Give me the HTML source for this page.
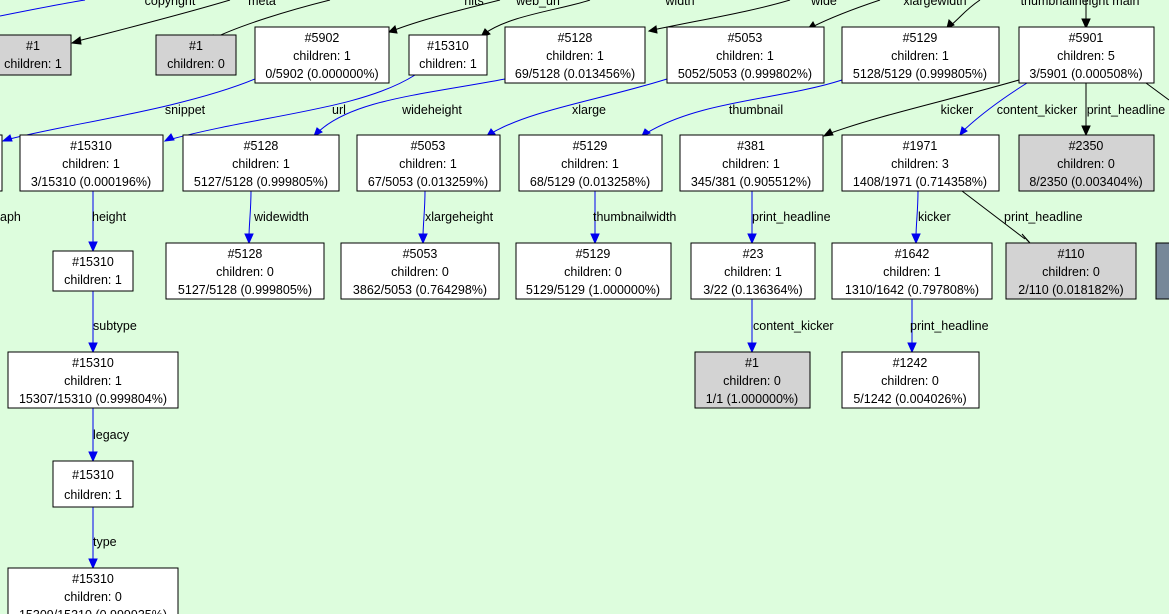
<!DOCTYPE html>
<html><head><meta charset="utf-8"><style>
html,body{margin:0;padding:0;background:#ddfddd;overflow:hidden}
svg{display:block}
text{font-family:"Liberation Sans",sans-serif;font-size:12.5px;fill:#000}
.n{fill:#fff;stroke:#000;stroke-width:1}
.g{fill:#d3d3d3;stroke:#000;stroke-width:1}
.k{fill:none;stroke:#000;stroke-width:1}
.b{fill:none;stroke:#0000ee;stroke-width:1}
.ka{fill:#000;stroke:#000}
.ba{fill:#0000ee;stroke:#0000ee}
</style></head><body>
<svg width="1169" height="614" viewBox="0 0 1169 614" xmlns="http://www.w3.org/2000/svg">
<rect width="1169" height="614" fill="#ddfddd"/>

<path class="b" d="M0,16 C30,10 60,4 85,0"/>
<path class="k" d="M230,0 C180,15 120,30 74,42"/><polygon class="ka" points="72,43 80,37 81,44"/>
<path class="k" d="M330,0 C290,10 240,25 210,40"/><polygon class="ka" points="207,42 213,35 216,41"/>
<path class="k" d="M500,0 C460,10 420,20 392,31"/><polygon class="ka" points="389,32 395,26 397,33"/>
<path class="k" d="M590,0 C560,10 510,15 484,34"/><polygon class="ka" points="481,37 485,29 490,34"/>
<path class="k" d="M790,0 C750,12 700,20 653,30"/><polygon class="ka" points="649,31 656,26 657,33"/>
<path class="k" d="M880,0 C850,10 830,18 812,27"/><polygon class="ka" points="808,29 813,22 816,28"/>
<path class="k" d="M980,0 C965,10 960,18 950,26"/><polygon class="ka" points="947,28 949,20 954,25"/>
<path class="k" d="M1086,0 L1086,23"/><polygon class="ka" points="1082,19 1090,19 1086,28"/>

<text x="170" y="5" text-anchor="middle">copyright</text>
<text x="262" y="5" text-anchor="middle">meta</text>
<text x="474" y="5" text-anchor="middle">hits</text>
<text x="538" y="5" text-anchor="middle">web_url</text>
<text x="680" y="5" text-anchor="middle">width</text>
<text x="824" y="5" text-anchor="middle">wide</text>
<text x="935" y="5" text-anchor="middle">xlargewidth</text>
<text x="1080" y="5" text-anchor="middle">thumbnailheight main</text>

<path class="b" d="M255,79 C180,110 60,125 6,140"/><polygon class="ba" points="3,141 10,135 12,141"/>
<path class="b" d="M415,75 C360,110 260,115 168,140"/><polygon class="ba" points="165,141 171,134 174,140"/>
<path class="b" d="M505,79 C420,95 350,100 316,134"/><polygon class="ba" points="314,136 317,128 322,132"/>
<path class="b" d="M667,79 C600,100 530,110 490,134"/><polygon class="ba" points="487,136 491,129 495,134"/>
<path class="b" d="M842,80 C780,100 700,100 645,134"/><polygon class="ba" points="642,136 645,129 650,133"/>
<path class="k" d="M1019,80 C950,100 880,115 828,134"/><polygon class="ka" points="824,136 830,129 833,135"/>
<path class="b" d="M1027,83 C1000,100 980,115 963,131"/><polygon class="ba" points="960,135 962,127 967,131"/>
<path class="k" d="M1086,83 L1086,130"/><polygon class="ka" points="1082,126 1090,126 1086,135"/>
<path class="k" d="M1146,83 L1169,100"/>

<text x="185" y="114" text-anchor="middle">snippet</text>
<text x="339" y="114" text-anchor="middle">url</text>
<text x="432" y="114" text-anchor="middle">wideheight</text>
<text x="589" y="114" text-anchor="middle">xlarge</text>
<text x="756" y="114" text-anchor="middle">thumbnail</text>
<text x="957" y="114" text-anchor="middle">kicker</text>
<text x="1037" y="114" text-anchor="middle">content_kicker</text>
<text x="1126" y="114" text-anchor="middle">print_headline</text>

<path class="b" d="M93,191 L93,245"/><polygon class="ba" points="89,242 97,242 93,251"/>
<path class="b" d="M251,191 C251,210 249,225 249,237"/><polygon class="ba" points="245,234 253,234 249,243"/>
<path class="b" d="M425,191 C425,210 423,225 423,237"/><polygon class="ba" points="419,234 427,234 423,243"/>
<path class="b" d="M595,191 L595,237"/><polygon class="ba" points="591,234 599,234 595,243"/>
<path class="b" d="M752,191 L752,237"/><polygon class="ba" points="748,234 756,234 752,243"/>
<path class="b" d="M918,191 C918,210 916,225 916,237"/><polygon class="ba" points="912,234 920,234 916,243"/>
<path class="k" d="M962,191 L1025,239"/><polygon class="ka" points="1022,234 1027,240 1030,243"/>
<path class="b" d="M752,299 L752,346"/><polygon class="ba" points="748,343 756,343 752,352"/>
<path class="b" d="M912,299 L912,346"/><polygon class="ba" points="908,343 916,343 912,352"/>
<path class="b" d="M93,291 L93,346"/><polygon class="ba" points="89,343 97,343 93,352"/>
<path class="b" d="M93,408 L93,455"/><polygon class="ba" points="89,452 97,452 93,461"/>
<path class="b" d="M93,507 L93,562"/><polygon class="ba" points="89,559 97,559 93,568"/>

<text x="92" y="221">height</text>
<text x="254" y="221">widewidth</text>
<text x="425" y="221">xlargeheight</text>
<text x="593" y="221">thumbnailwidth</text>
<text x="752" y="221">print_headline</text>
<text x="918" y="221">kicker</text>
<text x="1004" y="221">print_headline</text>
<text x="0" y="221">aph</text>
<text x="753" y="330">content_kicker</text>
<text x="910" y="330">print_headline</text>
<text x="93" y="330">subtype</text>
<text x="93" y="439">legacy</text>
<text x="93" y="546">type</text>

<rect class="g" x="-5" y="35" width="76" height="40"/>
<text x="33" y="50" text-anchor="middle">#1</text><text x="33" y="68" text-anchor="middle">children: 1</text>
<rect class="g" x="156" y="35" width="80" height="40"/>
<text x="196" y="50" text-anchor="middle">#1</text><text x="196" y="68" text-anchor="middle">children: 0</text>
<rect class="n" x="255" y="27" width="134" height="56"/>
<text x="322" y="42" text-anchor="middle">#5902</text><text x="322" y="60" text-anchor="middle">children: 1</text><text x="322" y="78" text-anchor="middle">0/5902 (0.000000%)</text>
<rect class="n" x="409" y="35" width="78" height="40"/>
<text x="448" y="50" text-anchor="middle">#15310</text><text x="448" y="68" text-anchor="middle">children: 1</text>
<rect class="n" x="505" y="27" width="140" height="56"/>
<text x="575" y="42" text-anchor="middle">#5128</text><text x="575" y="60" text-anchor="middle">children: 1</text><text x="575" y="78" text-anchor="middle">69/5128 (0.013456%)</text>
<rect class="n" x="667" y="27" width="157" height="56"/>
<text x="745" y="42" text-anchor="middle">#5053</text><text x="745" y="60" text-anchor="middle">children: 1</text><text x="745" y="78" text-anchor="middle">5052/5053 (0.999802%)</text>
<rect class="n" x="842" y="27" width="157" height="56"/>
<text x="920" y="42" text-anchor="middle">#5129</text><text x="920" y="60" text-anchor="middle">children: 1</text><text x="920" y="78" text-anchor="middle">5128/5129 (0.999805%)</text>
<rect class="n" x="1019" y="27" width="135" height="56"/>
<text x="1086" y="42" text-anchor="middle">#5901</text><text x="1086" y="60" text-anchor="middle">children: 5</text><text x="1086" y="78" text-anchor="middle">3/5901 (0.000508%)</text>

<rect class="n" x="-20" y="135" width="22" height="56"/>
<rect class="n" x="20" y="135" width="143" height="56"/>
<text x="91" y="150" text-anchor="middle">#15310</text><text x="91" y="168" text-anchor="middle">children: 1</text><text x="91" y="186" text-anchor="middle">3/15310 (0.000196%)</text>
<rect class="n" x="183" y="135" width="156" height="56"/>
<text x="261" y="150" text-anchor="middle">#5128</text><text x="261" y="168" text-anchor="middle">children: 1</text><text x="261" y="186" text-anchor="middle">5127/5128 (0.999805%)</text>
<rect class="n" x="357" y="135" width="143" height="56"/>
<text x="428" y="150" text-anchor="middle">#5053</text><text x="428" y="168" text-anchor="middle">children: 1</text><text x="428" y="186" text-anchor="middle">67/5053 (0.013259%)</text>
<rect class="n" x="519" y="135" width="143" height="56"/>
<text x="590" y="150" text-anchor="middle">#5129</text><text x="590" y="168" text-anchor="middle">children: 1</text><text x="590" y="186" text-anchor="middle">68/5129 (0.013258%)</text>
<rect class="n" x="680" y="135" width="143" height="56"/>
<text x="751" y="150" text-anchor="middle">#381</text><text x="751" y="168" text-anchor="middle">children: 1</text><text x="751" y="186" text-anchor="middle">345/381 (0.905512%)</text>
<rect class="n" x="842" y="135" width="157" height="56"/>
<text x="920" y="150" text-anchor="middle">#1971</text><text x="920" y="168" text-anchor="middle">children: 3</text><text x="920" y="186" text-anchor="middle">1408/1971 (0.714358%)</text>
<rect class="g" x="1019" y="135" width="135" height="56"/>
<text x="1086" y="150" text-anchor="middle">#2350</text><text x="1086" y="168" text-anchor="middle">children: 0</text><text x="1086" y="186" text-anchor="middle">8/2350 (0.003404%)</text>

<rect class="n" x="53" y="251" width="80" height="40"/>
<text x="93" y="266" text-anchor="middle">#15310</text><text x="93" y="284" text-anchor="middle">children: 1</text>
<rect class="n" x="166" y="243" width="158" height="56"/>
<text x="245" y="258" text-anchor="middle">#5128</text><text x="245" y="276" text-anchor="middle">children: 0</text><text x="245" y="294" text-anchor="middle">5127/5128 (0.999805%)</text>
<rect class="n" x="341" y="243" width="158" height="56"/>
<text x="420" y="258" text-anchor="middle">#5053</text><text x="420" y="276" text-anchor="middle">children: 0</text><text x="420" y="294" text-anchor="middle">3862/5053 (0.764298%)</text>
<rect class="n" x="516" y="243" width="155" height="56"/>
<text x="593" y="258" text-anchor="middle">#5129</text><text x="593" y="276" text-anchor="middle">children: 0</text><text x="593" y="294" text-anchor="middle">5129/5129 (1.000000%)</text>
<rect class="n" x="691" y="243" width="124" height="56"/>
<text x="753" y="258" text-anchor="middle">#23</text><text x="753" y="276" text-anchor="middle">children: 1</text><text x="753" y="294" text-anchor="middle">3/22 (0.136364%)</text>
<rect class="n" x="832" y="243" width="160" height="56"/>
<text x="912" y="258" text-anchor="middle">#1642</text><text x="912" y="276" text-anchor="middle">children: 1</text><text x="912" y="294" text-anchor="middle">1310/1642 (0.797808%)</text>
<rect class="g" x="1006" y="243" width="130" height="56"/>
<text x="1071" y="258" text-anchor="middle">#110</text><text x="1071" y="276" text-anchor="middle">children: 0</text><text x="1071" y="294" text-anchor="middle">2/110 (0.018182%)</text>
<rect x="1156" y="243" width="30" height="56" fill="#778899" stroke="#000"/>

<rect class="n" x="8" y="352" width="170" height="56"/>
<text x="93" y="367" text-anchor="middle">#15310</text><text x="93" y="385" text-anchor="middle">children: 1</text><text x="93" y="403" text-anchor="middle">15307/15310 (0.999804%)</text>
<rect class="g" x="695" y="352" width="115" height="56"/>
<text x="752" y="367" text-anchor="middle">#1</text><text x="752" y="385" text-anchor="middle">children: 0</text><text x="752" y="403" text-anchor="middle">1/1 (1.000000%)</text>
<rect class="n" x="842" y="352" width="137" height="56"/>
<text x="910" y="367" text-anchor="middle">#1242</text><text x="910" y="385" text-anchor="middle">children: 0</text><text x="910" y="403" text-anchor="middle">5/1242 (0.004026%)</text>

<rect class="n" x="53" y="461" width="80" height="46"/>
<text x="93" y="479" text-anchor="middle">#15310</text><text x="93" y="499" text-anchor="middle">children: 1</text>

<rect class="n" x="8" y="568" width="170" height="56"/>
<text x="93" y="583" text-anchor="middle">#15310</text><text x="93" y="601" text-anchor="middle">children: 0</text><text x="93" y="619" text-anchor="middle">15309/15310 (0.999935%)</text>
</svg>
</body></html>
